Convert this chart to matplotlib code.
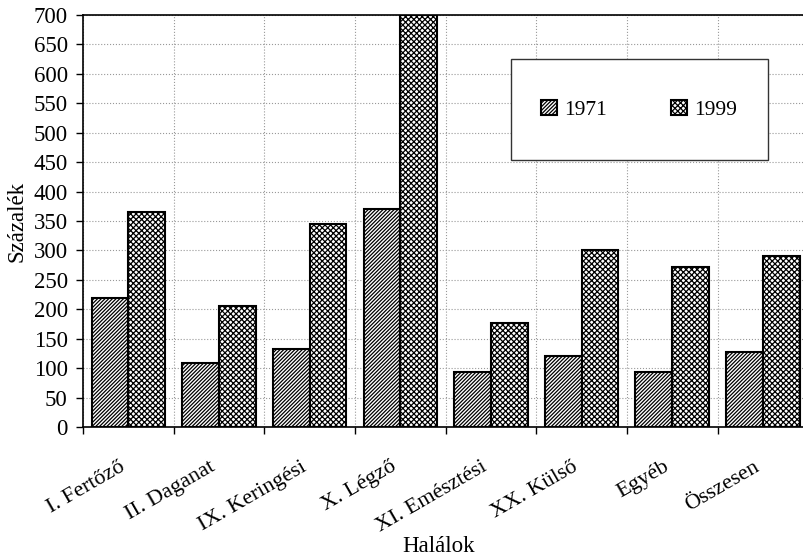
import numpy as np
import matplotlib
matplotlib.use("Agg")
import matplotlib.pyplot as plt
from matplotlib.patches import Rectangle

plt.rcParams["font.family"] = ["Liberation Serif", "DejaVu Serif"]
plt.rcParams["hatch.linewidth"] = 0.9

categories = ["I. Fertőző", "II. Daganat", "IX. Keringési", "X. Légző",
              "XI. Emésztési", "XX. Külső", "Egyéb", "Összesen"]
vals_1971 = [219, 108, 133, 370, 93, 121, 93, 127]
vals_1999 = [365, 205, 345, 700, 177, 300, 272, 291]
yticks = list(range(0, 701, 50))

fig = plt.figure(figsize=(8.04, 5.59), dpi=100)
ax = fig.add_axes([0.1032, 0.2361, 0.902, 0.7371])

x = np.arange(len(categories))
w = 0.405
ax.bar(x - w / 2, vals_1971, w, color="white", edgecolor="black", hatch="/" * 9,
       linewidth=1.5, label="1971", zorder=3)
ax.bar(x + w / 2, vals_1999, w, color="white", edgecolor="black", hatch="x" * 6,
       linewidth=1.5, label="1999", zorder=3)

ax.set_xlim(-0.5, len(categories) - 0.5)
ax.set_ylim(0, 700)
ax.set_yticks(yticks)
ax.tick_params(axis="y", labelsize=16.5, direction="out", length=5, width=1, pad=6)
ax.set_xticks(x)
ax.set_xticklabels(categories, rotation=30, ha="right", fontsize=16)
ax.tick_params(axis="x", which="major", length=0, pad=22)
ax.set_xticks(np.arange(len(categories) + 1) - 0.5, minor=True)
ax.tick_params(axis="x", which="minor", length=5, width=1, direction="out")

ax.grid(axis="y", which="major", linestyle=":", color="#999999", linewidth=0.8, zorder=0)
ax.grid(axis="x", which="minor", linestyle=":", color="#999999", linewidth=0.8, zorder=0)

for side in ["top", "left", "bottom"]:
    ax.spines[side].set_linewidth(1.2)
ax.spines["right"].set_visible(False)

ax.set_ylabel("Százalék", fontsize=16.5, labelpad=4)
ax.set_xlabel("Halálok", fontsize=16.5)
ax.xaxis.set_label_coords(0.49, -0.265)

# legend box
box = (0.590, 0.648, 0.354, 0.245)
ax.add_patch(Rectangle((box[0], box[1]), box[2], box[3], transform=ax.transAxes,
                       facecolor="white", edgecolor="#333333", linewidth=1.0, zorder=4))
leg = ax.legend(loc="center", bbox_to_anchor=(box[0] + box[2] / 2, box[1] + box[3] / 2),
                ncol=2, frameon=False, fontsize=15.5, handlelength=0.7, handleheight=0.7,
                handletextpad=0.35, columnspacing=3.0)
leg.set_zorder(5)

fig.savefig("out.png", dpi=100, facecolor="white")
